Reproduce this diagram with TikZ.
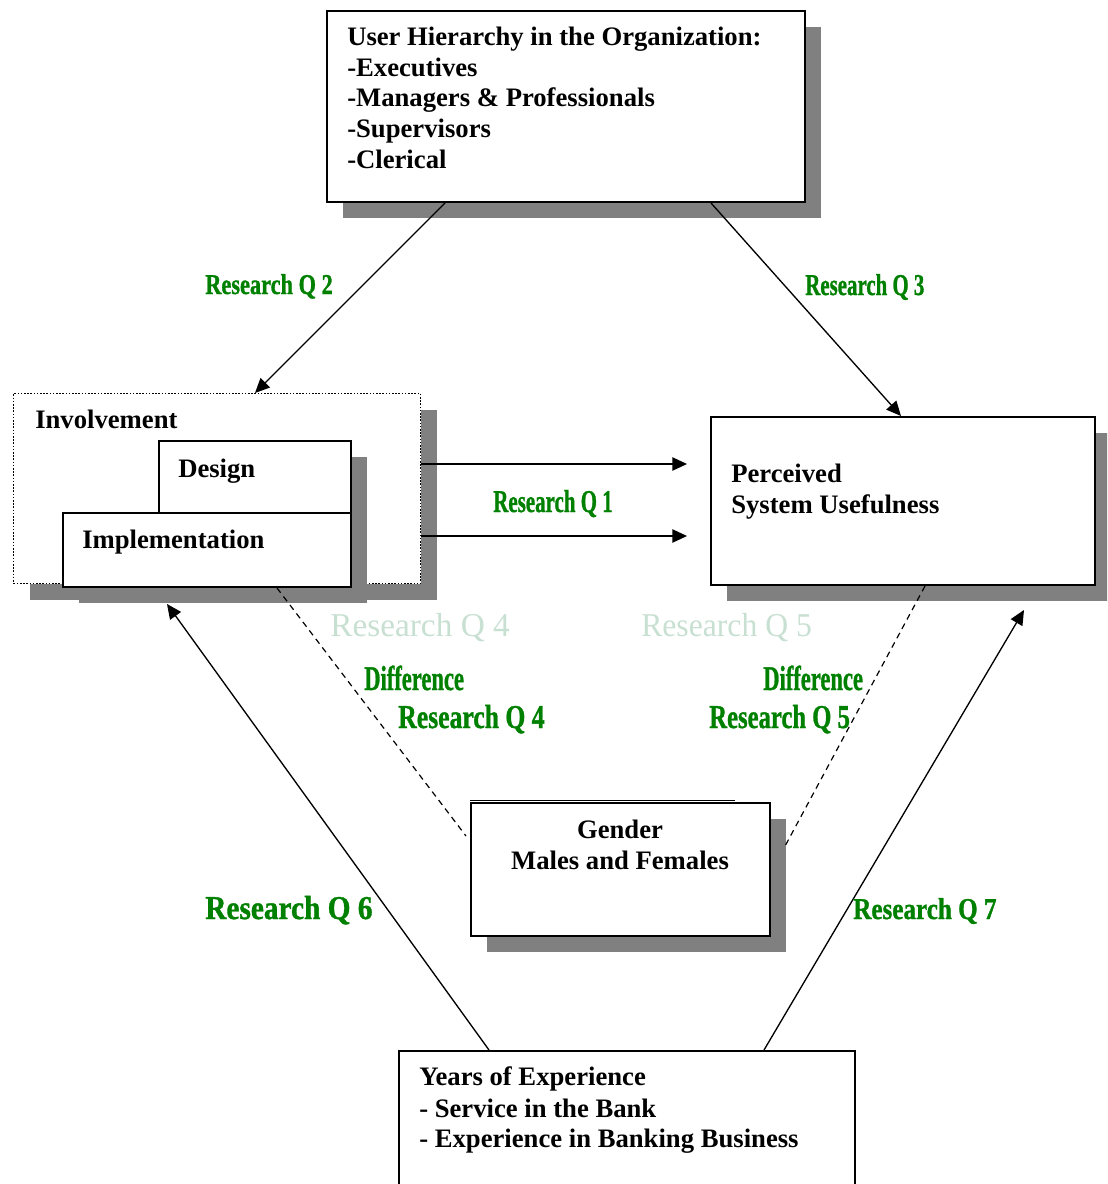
\documentclass[tikz,border=0pt]{standalone}
\usepackage{fontspec}
\usepackage{graphicx}
\setmainfont{Liberation Serif}
\newfontfamily\gfont[BoldFeatures={FakeBold=1.2}]{Liberation Serif}
\usetikzlibrary{arrows.meta,shadows,calc}
\definecolor{qgreen}{RGB}{0,128,0}
\definecolor{qlight}{RGB}{200,224,210}
\definecolor{shadowgray}{RGB}{128,128,128}
\newcommand\GL[3]{{\fontsize{#1}{#1}\selectfont\scalebox{#2}[1]{#3}}}
\begin{document}
\begin{tikzpicture}[x=0.75pt,y=-0.75pt,
  plainbox/.style={draw=black, line width=1.5pt, fill=white, inner sep=0pt, anchor=north west},
  shbox/.style={plainbox,
    drop shadow={shadow xshift=12pt, shadow yshift=-12pt, fill=shadowgray, opacity=1}},
  dotbox/.style={draw=black, line width=0.8pt, dash pattern=on 1.2pt off 1.2pt, fill=white, inner sep=0pt, anchor=north west,
    drop shadow={shadow xshift=12pt, shadow yshift=-12pt, fill=shadowgray, opacity=1}},
  txt/.style={anchor=base west, inner sep=0pt, font=\fontsize{20}{24}\selectfont\bfseries},
  ctxt/.style={anchor=base, inner sep=0pt, font=\fontsize{20}{24}\selectfont\bfseries},
  glabel/.style={anchor=base west, inner sep=0pt, text=qgreen, font=\gfont\bfseries},
  llabel/.style={anchor=base west, inner sep=0pt, text=qlight, font=\fontsize{25}{25}\selectfont},
  arr/.style={line width=1pt, -{Triangle[length=11pt,width=10pt]}},
  dsh/.style={line width=0.9pt, dash pattern=on 4.5pt off 3.5pt}
]
\useasboundingbox (0,0) rectangle (1107,1184);
\clip (0,0) rectangle (1107,1184);

% boxes
\node[shbox, minimum width=478*0.75pt, minimum height=191*0.75pt] (top) at (326,10) {};
\node[dotbox, minimum width=407*0.75pt, minimum height=190*0.75pt] (inv) at (13,393) {};
\node[shbox, minimum width=192*0.75pt, minimum height=72*0.75pt] (design) at (158,440) {};
\node[shbox, minimum width=288*0.75pt, minimum height=74*0.75pt] (impl) at (62,512) {};
\node[shbox, minimum width=384*0.75pt, minimum height=168*0.75pt] (perc) at (710,416) {};
\node[shbox, minimum width=299*0.75pt, minimum height=133*0.75pt] (gender) at (470,802) {};
\draw[line width=1pt] ($(gender.north west)+(0,-1.5)$) -- ($(gender.north west)+(265,-1.5)$);
\node[plainbox, minimum width=456*0.75pt, minimum height=160*0.75pt] (years) at (398,1050) {};

% box texts
\node[txt] (t1) at (347,46) {User Hierarchy in the Organization:};
\node[txt] (t2) at (347,77) {-Executives};
\node[txt] (t3) at (347,107) {-Managers \& Professionals};
\node[txt] (t4) at (347,138) {-Supervisors};
\node[txt] (t5) at (347,169) {-Clerical};
\node[txt] (tinv) at (35,428) {Involvement};
\node[txt] (tdes) at (178,477) {Design};
\node[txt] (timp) at (82,548) {Implementation};
\node[txt] (tp1) at (731,482) {Perceived};
\node[txt] (tp2) at (731,513) {System Usefulness};
\node[ctxt] (tg1) at (620,838) {Gender};
\node[ctxt] (tg2) at (620,869) {Males and Females};
\node[txt] (ty1) at (419,1085) {Years of Experience};
\node[txt] (ty2) at (419,1117) {- Service in the Bank};
\node[txt] (ty3) at (419,1147) {- Experience in Banking Business};

% end coordinates
\coordinate (q1a) at ($(perc.north west)+(-23,48)$);
\coordinate (q1b) at ($(perc.north west)+(-23,120)$);
\coordinate (q6e) at ($(impl.south west)+(105,16)$);
\coordinate (q7e) at ($(perc.south east)+(-72,24)$);
\coordinate (d1e) at ($(gender.north west)+(-4,34)$);
\coordinate (d2e) at ($(gender.north east)+(13,46)$);

% connectors
\draw[arr] ($(top.south west)+(119,0)$) -- ($(inv.north west)+(242,0)$);
\draw[arr] ($(top.south west)+(385,0)$) -- ($(perc.north west)+(191,0)$);
\draw[arr] ($(inv.north east)+(0,71)$) -- (q1a);
\draw[arr] ($(inv.north east)+(0,143)$) -- (q1b);
\draw[arr] ($(years.north west)+(91,0)$) -- (q6e);
\draw[arr] ($(years.north west)+(366,0)$) -- (q7e);
\draw[dsh] ($(impl.south west)+(215,0)$) -- (d1e);
\draw[dsh] ($(perc.south west)+(215,0)$) -- (d2e);

% labels
\node[glabel] (lq2) at (205,294) {\GL{21.5}{0.78}{Research Q 2}};
\node[glabel] (lq3) at (805,295) {\GL{22.7}{0.69}{Research Q 3}};
\node[glabel] (lq1) at (493,512) {\GL{23.8}{0.66}{Research Q 1}};
\node[llabel] (lq4l) at (330,636) {Research Q 4};
\node[llabel] (lq5l) at (641,636) {\scalebox{0.95}[1]{Research Q 5}};
\node[glabel] (ld1) at (364,690) {\GL{26}{0.65}{Difference}};
\node[glabel] (ld2) at (763,690) {\GL{26}{0.65}{Difference}};
\node[glabel] (lq4) at (398,728) {\GL{25}{0.77}{Research Q 4}};
\node[glabel] (lq5) at (709,728) {\GL{25}{0.74}{Research Q 5}};
\node[glabel] (lq6) at (205,919) {\GL{25}{0.88}{Research Q 6}};
\node[glabel] (lq7) at (853,919) {\GL{22.7}{0.83}{Research Q 7}};
\end{tikzpicture}
\end{document}
